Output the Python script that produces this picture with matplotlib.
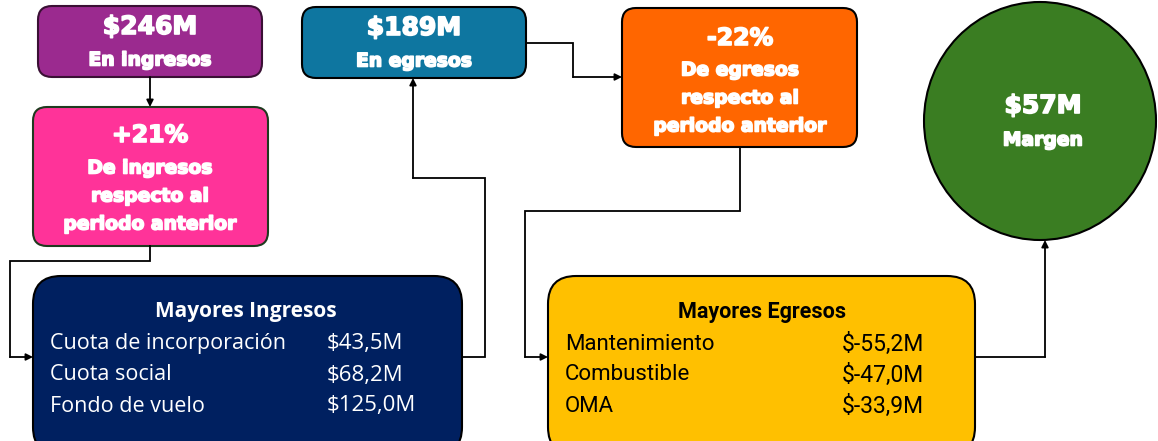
import matplotlib.pyplot as plt
import matplotlib.patheffects as pe
from matplotlib.patches import FancyBboxPatch, Ellipse

# Datos del resumen
ingresos_total = "$246M"
egresos_total = "$189M"
var_ingresos = "+21%"
var_egresos = "-22%"
margen = "$57M"

ing_cats = ["Cuota de incorporación", "Cuota social", "Fondo de vuelo"]
ing_vals = [43.5, 68.2, 125.0]
egr_cats = ["Mantenimiento", "Combustible", "OMA"]
egr_vals = [-55.2, -47.0, -33.9]


def fmt(v):
    return "$" + f"{v:.1f}".replace(".", ",") + "M"


fig = plt.figure(figsize=(11.58, 4.41), dpi=100)
ax = fig.add_axes([0, 0, 1, 1])
ax.set_xlim(0, 1158)
ax.set_ylim(441, 0)
ax.axis("off")

BIG = ["DejaVu Sans"]
BODY = ["Open Sans", "DejaVu Sans"]
NARROW = ["Roboto", "DejaVu Sans"]


def caja(x0, y0, x1, y1, color, edge="black", r=14):
    p = FancyBboxPatch((x0 + r, y0 + r), (x1 - x0) - 2 * r, (y1 - y0) - 2 * r,
                       boxstyle=f"round,pad={r}", fc=color, ec=edge, lw=1.5)
    ax.add_patch(p)


def flecha(pts):
    xs = [p[0] for p in pts]
    ys = [p[1] for p in pts]
    ax.plot(xs[:-1], ys[:-1], color="black", lw=1.3, solid_joinstyle="miter")
    ax.annotate("", xy=pts[-1], xytext=pts[-2],
                arrowprops=dict(arrowstyle="-|>", color="black", lw=1.3,
                                mutation_scale=10, shrinkA=0, shrinkB=0))


# cajas superiores
caja(38, 6, 262, 77, "#9B2A8F", edge="#3a1034")
caja(33, 107, 268, 246, "#FF3399", edge="#1f3a1f")
caja(302, 7, 526, 78, "#0E76A0")
caja(622, 8, 857, 147, "#FF6600")
ax.add_patch(Ellipse((1040, 121), 232, 238, fc="#3A7D22", ec="black", lw=1.5))

# cajas inferiores
caja(33, 276, 462, 455, "#002060", r=28)
caja(548, 276, 975, 455, "#FFC000", r=28)

# conectores
flecha([(150, 77), (150, 107)])
flecha([(150, 246), (150, 261), (10, 261), (10, 357), (33, 357)])
flecha([(462, 357), (485, 357), (485, 178), (413, 178), (413, 78)])
flecha([(526, 43), (573, 43), (573, 77), (622, 77)])
flecha([(740, 147), (740, 211), (525, 211), (525, 357), (548, 357)])
flecha([(975, 357), (1045, 357), (1045, 240)])

grueso = [pe.withStroke(linewidth=1.2, foreground="white")]
w = dict(color="white", ha="center", va="center", family=BIG, weight="bold",
         path_effects=grueso)
ax.text(150, 27, ingresos_total, fontsize=18, **w)
ax.text(150, 60, "En ingresos", fontsize=13.5, **w)
ax.text(150, 135, var_ingresos, fontsize=17, **w)
for i, t in enumerate(["De ingresos", "respecto al", "periodo anterior"]):
    ax.text(150, 168 + 28 * i, t, fontsize=13.5, **w)

ax.text(414, 28, egresos_total, fontsize=18, **w)
ax.text(414, 61, "En egresos", fontsize=13.5, **w)

ax.text(740, 38, var_egresos, fontsize=17, **w)
for i, t in enumerate(["De egresos", "respecto al", "periodo anterior"]):
    ax.text(740, 70 + 28 * i, t, fontsize=13.5, **w)

ax.text(1043, 106, margen, fontsize=18, **w)
ax.text(1043, 140, "Margen", fontsize=13.5, **w)

# detalle ingresos
ax.text(246, 312, "Mayores Ingresos", color="white", ha="center", va="center",
        fontsize=15, weight="bold", family=BODY)
for i, (c, v) in enumerate(zip(ing_cats, ing_vals)):
    y = 344 + 31 * i
    ax.text(50, y, c, color="white", va="center", fontsize=15.5, family=BODY)
    ax.text(327, y, fmt(v), color="white", va="center", fontsize=16, family=BODY)

# detalle egresos
ax.text(762, 312, "Mayores Egresos", color="black", ha="center", va="center",
        fontsize=15.5, weight="bold", family=NARROW)
for i, (c, v) in enumerate(zip(egr_cats, egr_vals)):
    y = 344 + 31 * i
    ax.text(565, y, c, color="black", va="center", fontsize=16, family=NARROW)
    ax.text(842, y, fmt(v), color="black", va="center", fontsize=16.5, family=NARROW)

fig.savefig("out.png", dpi=100)
